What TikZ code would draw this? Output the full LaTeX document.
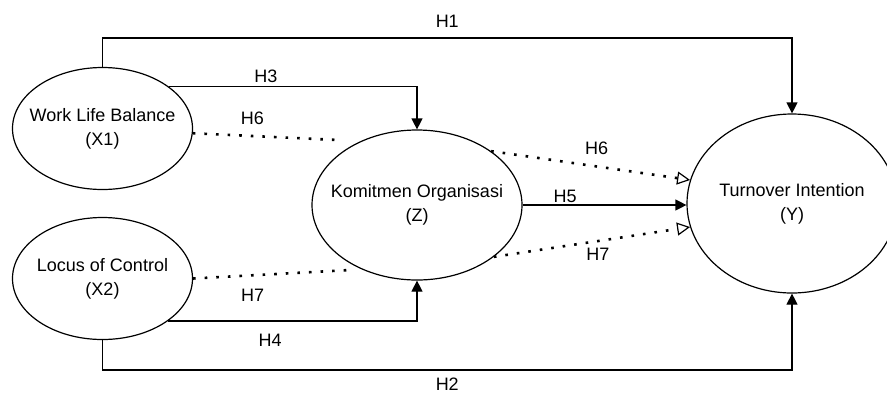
\documentclass[tikz,border=0pt]{standalone}
\usepackage{fontspec}
\setmainfont{Liberation Sans}
\usetikzlibrary{shapes.geometric,arrows.meta}

\begin{document}
\begin{tikzpicture}[x=0.5pt,y=-0.5pt,font=\fontsize{9}{12}\selectfont,line width=0.6pt,
    var/.style={draw,ellipse,inner sep=0pt},
    arr/.style={-{Triangle[length=5.5pt,width=5.5pt]}},
    med/.style={line width=1.3pt,dash pattern=on 1.3pt off 4.5pt},
    medarr/.style={med,-{Triangle[open,length=6.5pt,width=6.5pt,line width=0.6pt]}},
    lbl/.style={inner sep=0pt}]
      \useasboundingbox (0,0) rectangle (887,392);
      \node[var,minimum width=90pt,minimum height=61pt,label={[align=center]center:Work Life Balance\\(X1)}] (wlb) at (102.5,128.5) {};
      \node[var,minimum width=90pt,minimum height=61pt,label={[align=center]center:Locus of Control\\(X2)}] (loc) at (102.5,278.5) {};
      \node[var,minimum width=105pt,minimum height=75pt,label={[align=center]center:Komitmen Organisasi\\(Z)}] (kom) at (417,205) {};
      \node[var,minimum width=105pt,minimum height=89.5pt,label={[align=center]center:Turnover Intention\\(Y)}] (turnover) at (792,203.5) {};
      \coordinate (h6end) at (338,140);
      \coordinate (h7end) at (350,270);
      %
      \draw[arr] (wlb.north) |- node[lbl,pos=0.75,above=5pt] {H1} (turnover.north |- 0,38) -- (turnover.north);
      \draw[arr] (wlb.32) -| node[lbl,pos=0.195,above=2pt] {H3} (kom.north);
      \draw[arr] (loc.-33) -| node[lbl,pos=0.205,below=6pt] {H4} (kom.south);
      \draw[arr] (loc.south) |- node[lbl,pos=0.75,below=3.5pt] {H2} (turnover.south |- 0,370) -- (turnover.south);
      \draw[arr] (kom.east) -- node[lbl,pos=0.26,above=1pt] {H5} (kom.east -| turnover.west);
      %
      \draw[med] (wlb.-3) -- node[lbl,pos=0.41,above=5pt] {H6} (h6end);
      \draw[medarr] (kom.36) -- node[lbl,pos=0.53,above=5pt] {H6} (turnover.167);
      \draw[medarr] (kom.-34) -- node[lbl,pos=0.53,below=3pt] {H7} (turnover.-167);
      \draw[med] (loc.east) -- node[lbl,pos=0.38,below=6.5pt] {H7} (h7end);
\end{tikzpicture}
\end{document}
